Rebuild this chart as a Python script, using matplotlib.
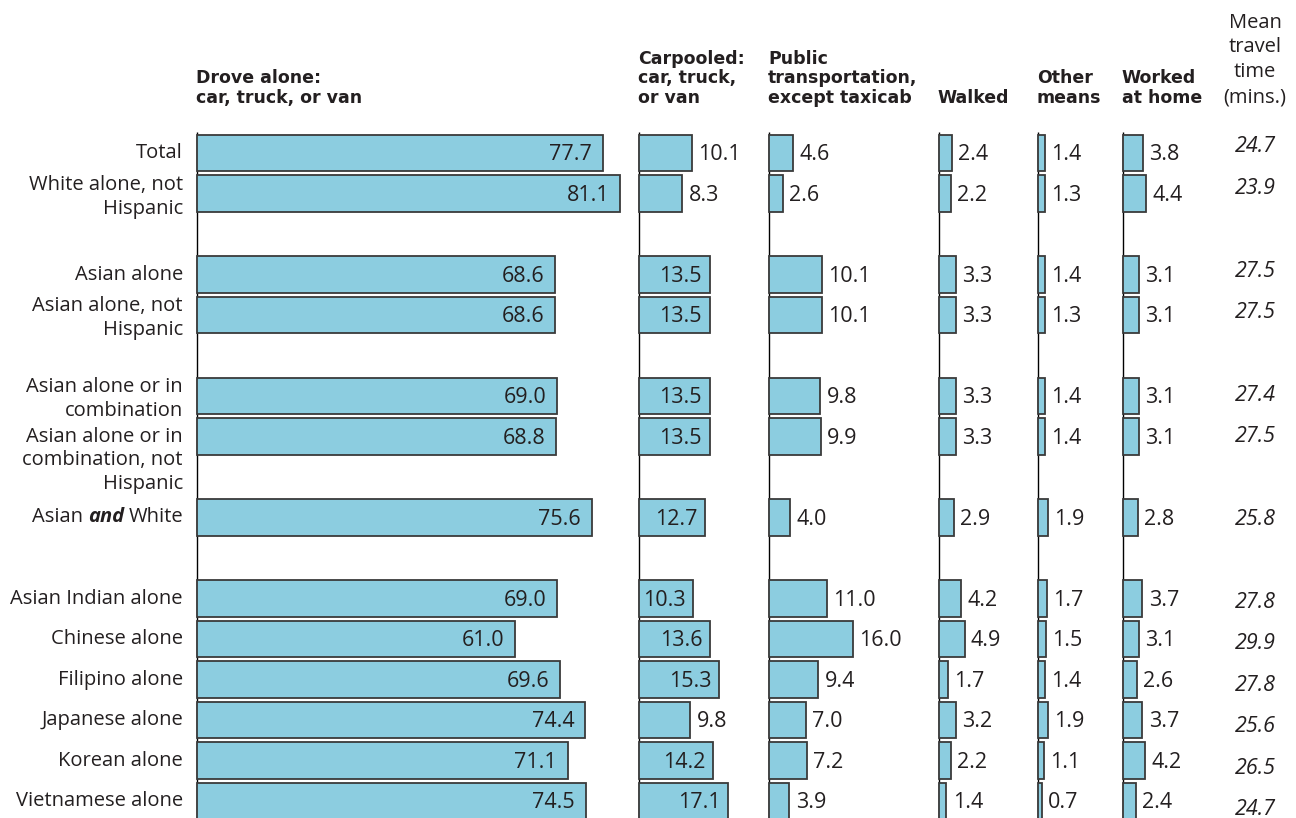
import numpy as np
import matplotlib.pyplot as plt

# row labels, grouped the way the chart leaves blank gaps between them
groups = [
    ["Total", "White alone, not\nHispanic"],
    ["Asian alone", "Asian alone, not\nHispanic"],
    ["Asian alone or in\ncombination", "Asian alone or in\ncombination, not\nHispanic"],
    ["Asian and White"],
    ["Asian Indian alone", "Chinese alone", "Filipino alone",
     "Japanese alone", "Korean alone", "Vietnamese alone"],
]

drove = [77.7, 81.1, 68.6, 68.6, 69.0, 68.8, 75.6, 69.0, 61.0, 69.6, 74.4, 71.1, 74.5]
carpool = [10.1, 8.3, 13.5, 13.5, 13.5, 13.5, 12.7, 10.3, 13.6, 15.3, 9.8, 14.2, 17.1]
public = [4.6, 2.6, 10.1, 10.1, 9.8, 9.9, 4.0, 11.0, 16.0, 9.4, 7.0, 7.2, 3.9]
walked = [2.4, 2.2, 3.3, 3.3, 3.3, 3.3, 2.9, 4.2, 4.9, 1.7, 3.2, 2.2, 1.4]
other = [1.4, 1.3, 1.4, 1.3, 1.4, 1.4, 1.9, 1.7, 1.5, 1.4, 1.9, 1.1, 0.7]
home = [3.8, 4.4, 3.1, 3.1, 3.1, 3.1, 2.8, 3.7, 3.1, 2.6, 3.7, 4.2, 2.4]
mean_time = [24.7, 23.9, 27.5, 27.5, 27.4, 27.5, 25.8, 27.8, 29.9, 27.8, 25.6, 26.5, 24.7]

headers = ["Drove alone:\ncar, truck, or van", "Carpooled:\ncar, truck,\nor van",
           "Public\ntransportation,\nexcept taxicab", "Walked", "Other\nmeans",
           "Worked\nat home"]
mean_header = "Mean\ntravel\ntime\n(mins.)"

FONT = "Open Sans"
TXT = "#231f20"
FILL = "#8ccde0"
EDGE = "#3a3a3a"

# x is in percent units; each column gets its own starting offset
PX = 5.22  # pixels per percent point
col_start = [0, 84.7, 109.6, 142.15, 161.1, 177.4]
mean_x = (1255 - 197) / PX
# smallest value that gets its label inside the bar, per column
inside_min = [0, 10.25, 999, 999, 999, 999]

labels = []
slots = []
s = 0
for g in groups:
    for lab in g:
        labels.append(lab)
        slots.append(s)
        s += 1
    s += 1
slots = np.array(slots)

fig = plt.figure(figsize=(12.96, 8.18), dpi=100)
ax = fig.add_axes([0, 0, 1, 1])
ax.set_xlim(-197 / PX, (1296 - 197) / PX)
row_px = 40.5
ax.set_ylim((818 - 153) / row_px, -153 / row_px)
ax.axis("off")

cols = [drove, carpool, public, walked, other, home]
top = (132 - 153) / row_px
head_y = (107 - 153) / row_px
for ci, vals in enumerate(cols):
    x0 = col_start[ci]
    ax.vlines(x0, top, 20, color="black", lw=1.0, zorder=1)
    ax.barh(slots, vals, left=x0, height=0.91, color=FILL, edgecolor=EDGE,
            linewidth=1.3, zorder=2)
    for y, v in zip(slots, vals):
        if ci == 0:
            off, ha = (-8, 0), "right"
        elif v >= inside_min[ci]:
            off, ha = (-5.5, 0), "right"
        else:
            off, ha = (4.5, 0), "left"
        ax.annotate(f"{v:.1f}", (x0 + v, y + 0.04), xytext=off, textcoords="offset points",
                    ha=ha, va="center", fontsize=15.5, family=FONT, color=TXT, zorder=3)
    ax.text(x0 - 0.2, head_y, headers[ci], ha="left", va="bottom",
            fontsize=12.5, fontweight="bold", family="DejaVu Sans", color=TXT,
            linespacing=1.12)

ax.text(mean_x, head_y, mean_header, ha="center", va="bottom",
        fontsize=14.5, family=FONT, color=TXT, linespacing=1.32)
# the mean column runs on a slightly looser row pitch than the bars
for y, v in zip(slots, mean_time):
    ax.text(mean_x, y * 41.4 / row_px - 6 / row_px, f"{v:.1f}", ha="center", va="center",
            fontsize=15.5, family=FONT, style="italic", color=TXT)

# row labels
lab_x = -14 / PX
line_gap = 24 / row_px
for y, lab in zip(slots, labels):
    if lab == "Asian and White":
        t1 = ax.text(lab_x, y, "White", ha="right", va="center", fontsize=14.5,
                     family=FONT, color=TXT)
        t2 = ax.annotate("and", xy=(0, 0), xycoords=t1, xytext=(-3, 0),
                         textcoords="offset points", ha="right", va="bottom",
                         fontsize=14.5, family=FONT, style="italic", weight="bold", color=TXT)
        ax.annotate("Asian", xy=(0, 0), xycoords=t2, xytext=(-4, 0),
                    textcoords="offset points", ha="right", va="bottom",
                    fontsize=14.5, family=FONT, color=TXT)
        continue
    lines = lab.split("\n")
    if len(lines) == 2:
        y0 = y - 0.21
    else:
        y0 = y
    for k, ln in enumerate(lines):
        ax.text(lab_x, y0 + k * line_gap, ln, ha="right", va="center", fontsize=14.5,
                family=FONT, color=TXT)

fig.savefig("out.png", dpi=100)
